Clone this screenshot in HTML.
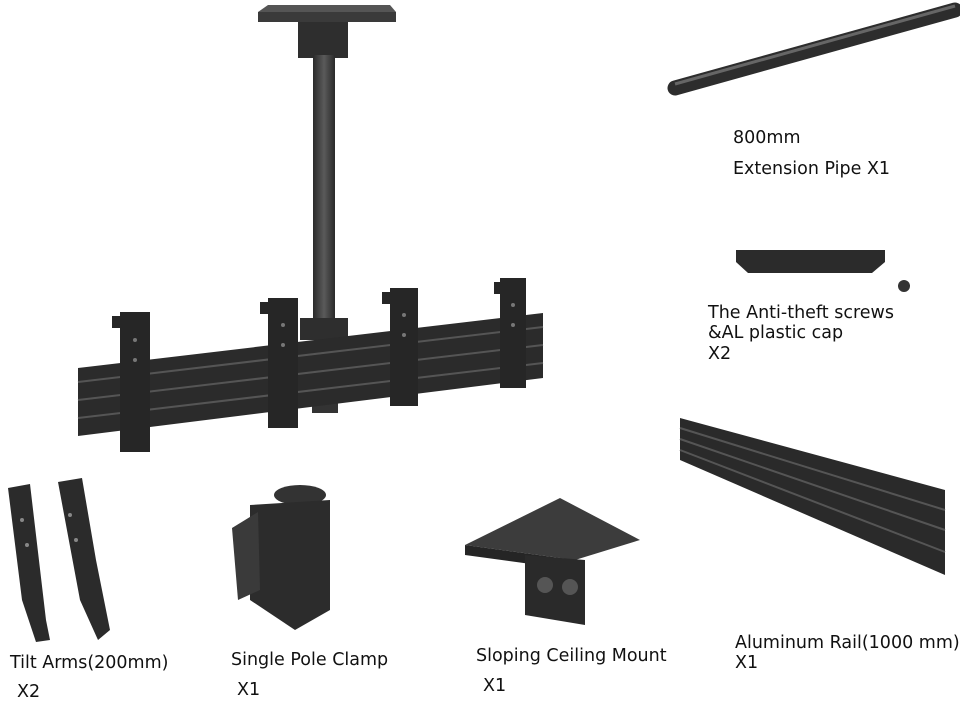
<!DOCTYPE html>
<html><head><meta charset="utf-8"><style>
html,body{margin:0;padding:0;background:#fff;}
body{width:960px;height:700px;overflow:hidden;position:relative;}
svg{position:absolute;left:0;top:0;}
.t{position:absolute;font-family:"DejaVu Sans","Liberation Sans",sans-serif;font-size:17.5px;color:#111;white-space:nowrap;line-height:20px;}
</style></head><body>
<svg width="960" height="700" viewBox="0 0 960 700">
<defs>
<linearGradient id="g2" x1="0" y1="0" x2="1" y2="0"><stop offset="0" stop-color="#2a2a2a"/><stop offset=".5" stop-color="#5a5a5a"/><stop offset="1" stop-color="#2a2a2a"/></linearGradient>
</defs>
<polygon points="258,12 396,12 396,22 258,22" fill="#3a3a3a"/>
<polygon points="268,5 390,5 396,12 258,12" fill="#555"/>
<rect x="298" y="22" width="50" height="36" fill="#2e2e2e"/>
<rect x="313" y="55" width="22" height="265" fill="url(#g2)"/>
<rect x="300" y="318" width="48" height="22" fill="#2e2e2e"/>
<rect x="312" y="395" width="26" height="18" fill="#333"/>
<polygon points="78,368 543,313 543,378 78,436" fill="#2b2b2b"/>
<g stroke="#555" stroke-width="2">
<line x1="78" y1="382" x2="543" y2="327"/><line x1="78" y1="400" x2="543" y2="345"/><line x1="78" y1="418" x2="543" y2="363"/>
</g>
<g fill="#262626">
<rect x="120" y="312" width="30" height="140"/><rect x="112" y="316" width="10" height="12"/>
<rect x="268" y="298" width="30" height="130"/><rect x="260" y="302" width="10" height="12"/>
<rect x="390" y="288" width="28" height="118"/><rect x="382" y="292" width="10" height="12"/>
<rect x="500" y="278" width="26" height="110"/><rect x="494" y="282" width="10" height="12"/>
</g>
<g fill="#777"><circle cx="135" cy="340" r="2"/><circle cx="135" cy="360" r="2"/><circle cx="283" cy="325" r="2"/><circle cx="283" cy="345" r="2"/><circle cx="404" cy="315" r="2"/><circle cx="404" cy="335" r="2"/><circle cx="513" cy="305" r="2"/><circle cx="513" cy="325" r="2"/></g>
<line x1="675" y1="88" x2="955" y2="10" stroke="#2d2d2d" stroke-width="15" stroke-linecap="round"/>
<line x1="675" y1="84" x2="955" y2="6" stroke="#666" stroke-width="3"/>
<polygon points="736,250 885,250 885,262 872,273 748,273 736,262" fill="#2b2b2b"/>
<circle cx="904" cy="286" r="6" fill="#333"/>
<polygon points="680,418 945,490 945,575 680,460" fill="#2a2a2a"/>
<g stroke="#555" stroke-width="2">
<line x1="680" y1="428" x2="945" y2="510"/><line x1="680" y1="439" x2="945" y2="530"/><line x1="680" y1="450" x2="945" y2="552"/>
</g>
<polygon points="8,488 30,484 46,620 50,640 36,642 22,600" fill="#2b2b2b"/>
<polygon points="58,482 82,478 96,560 110,630 98,640 80,600" fill="#2b2b2b"/>
<g fill="#888"><circle cx="22" cy="520" r="2"/><circle cx="27" cy="545" r="2"/><circle cx="70" cy="515" r="2"/><circle cx="76" cy="540" r="2"/></g>
<ellipse cx="300" cy="495" rx="26" ry="10" fill="#333"/>
<polygon points="250,505 330,500 330,610 295,630 250,600" fill="#2c2c2c"/>
<polygon points="232,528 258,512 260,590 238,600" fill="#3a3a3a"/>
<polygon points="465,545 560,498 640,540 575,560" fill="#3c3c3c"/>
<polygon points="465,545 575,560 575,570 465,555" fill="#252525"/>
<polygon points="525,555 585,560 585,625 525,615" fill="#2a2a2a"/>
<circle cx="545" cy="585" r="8" fill="#555"/><circle cx="570" cy="587" r="8" fill="#555"/>
</svg>
<div class="t" style="left:733px;top:128px">800mm</div>
<div class="t" style="left:733px;top:159px">Extension Pipe X1</div>
<div class="t" style="left:708px;top:303px">The Anti-theft screws</div>
<div class="t" style="left:708px;top:323px">&amp;AL plastic cap</div>
<div class="t" style="left:708px;top:344px">X2</div>
<div class="t" style="left:10px;top:653px">Tilt Arms(200mm)</div>
<div class="t" style="left:17px;top:682px">X2</div>
<div class="t" style="left:231px;top:650px">Single Pole Clamp</div>
<div class="t" style="left:237px;top:680px">X1</div>
<div class="t" style="left:476px;top:646px">Sloping Ceiling Mount</div>
<div class="t" style="left:483px;top:676px">X1</div>
<div class="t" style="left:735px;top:633px">Aluminum Rail(1000 mm)</div>
<div class="t" style="left:735px;top:653px">X1</div>
</body></html>
